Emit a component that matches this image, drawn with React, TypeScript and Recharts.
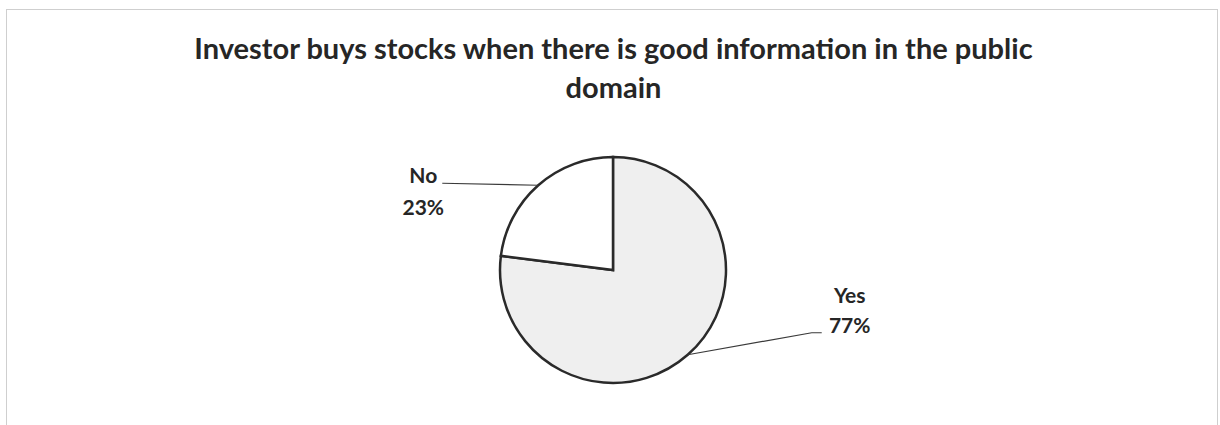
import { PieChart, Pie, Cell } from 'recharts'

const categories = ['Yes', 'No']
const shares = [77, 23]
const titleLines = [
  'Investor buys stocks when there is good information in the public',
  'domain',
]

const fills = ['#efefef', '#ffffff']
const FONT = 'Lato, "Open Sans", sans-serif'
const RAD = Math.PI / 180

const data = categories.map((name, i) => ({ name, value: shares[i] }))

interface LabelProps {
  cx: number
  cy: number
  midAngle: number
  outerRadius: number
  name: string
  value: number
}

function SliceLabel({ cx, cy, midAngle, outerRadius, name, value }: LabelProps) {
  const cos = Math.cos(-midAngle * RAD)
  const sin = Math.sin(-midAngle * RAD)
  const ex = cx + outerRadius * cos
  const ey = cy + outerRadius * sin
  const left = cos < 0
  // elbow + short horizontal run, Excel style
  const mx = left ? ex - 96 : ex + 124
  const my = left ? ey - 2 : ey - 22
  const hx = left ? mx : mx + 10
  const tx = left ? hx - 19 : hx + 28
  const y1 = left ? my : my - 30
  const y2 = left ? my + 32 : my
  return (
    <g>
      <polyline
        points={`${ex},${ey} ${mx},${my} ${hx},${my}`}
        fill="none"
        stroke="#3a3a3a"
        strokeWidth={1.2}
      />
      <text x={tx} y={y1} textAnchor="middle" fontFamily={FONT} fontWeight={700} fontSize={21} fill="#262626">
        {name}
      </text>
      <text x={tx} y={y2} textAnchor="middle" fontFamily={FONT} fontWeight={700} fontSize={21} fill="#262626">
        {value}%
      </text>
    </g>
  )
}

export default function App() {
  return (
    <div style={{ position: 'absolute', left: 0, top: 0, width: 1220, height: 425, background: '#fff', overflow: 'hidden' }}>
      <style>{'body{margin:0}'}</style>
      <div
        style={{
          position: 'absolute',
          left: 6,
          top: 9,
          width: 1210,
          height: 440,
          border: '1px solid #cfcfcf',
        }}
      />
      <div
        style={{
          position: 'absolute',
          left: 0,
          top: 28,
          width: 1227,
          textAlign: 'center',
          fontFamily: FONT,
          fontWeight: 700,
          fontSize: 29,
          lineHeight: '39px',
          color: '#262626',
        }}
      >
        {titleLines.map(l => (
          <div key={l}>{l}</div>
        ))}
      </div>
      <div style={{ position: 'absolute', left: 0, top: 0 }}>
        <PieChart width={1220} height={425}>
          <Pie
            data={data}
            dataKey="value"
            nameKey="name"
            cx={608}
            cy={265}
            outerRadius={113}
            startAngle={90}
            endAngle={-270}
            stroke="#2a2a2a"
            strokeWidth={2.5}
            label={SliceLabel}
            labelLine={false}
            isAnimationActive={false}
          >
            {data.map((d, i) => (
              <Cell key={d.name} fill={fills[i]} />
            ))}
          </Pie>
        </PieChart>
      </div>
    </div>
  )
}
